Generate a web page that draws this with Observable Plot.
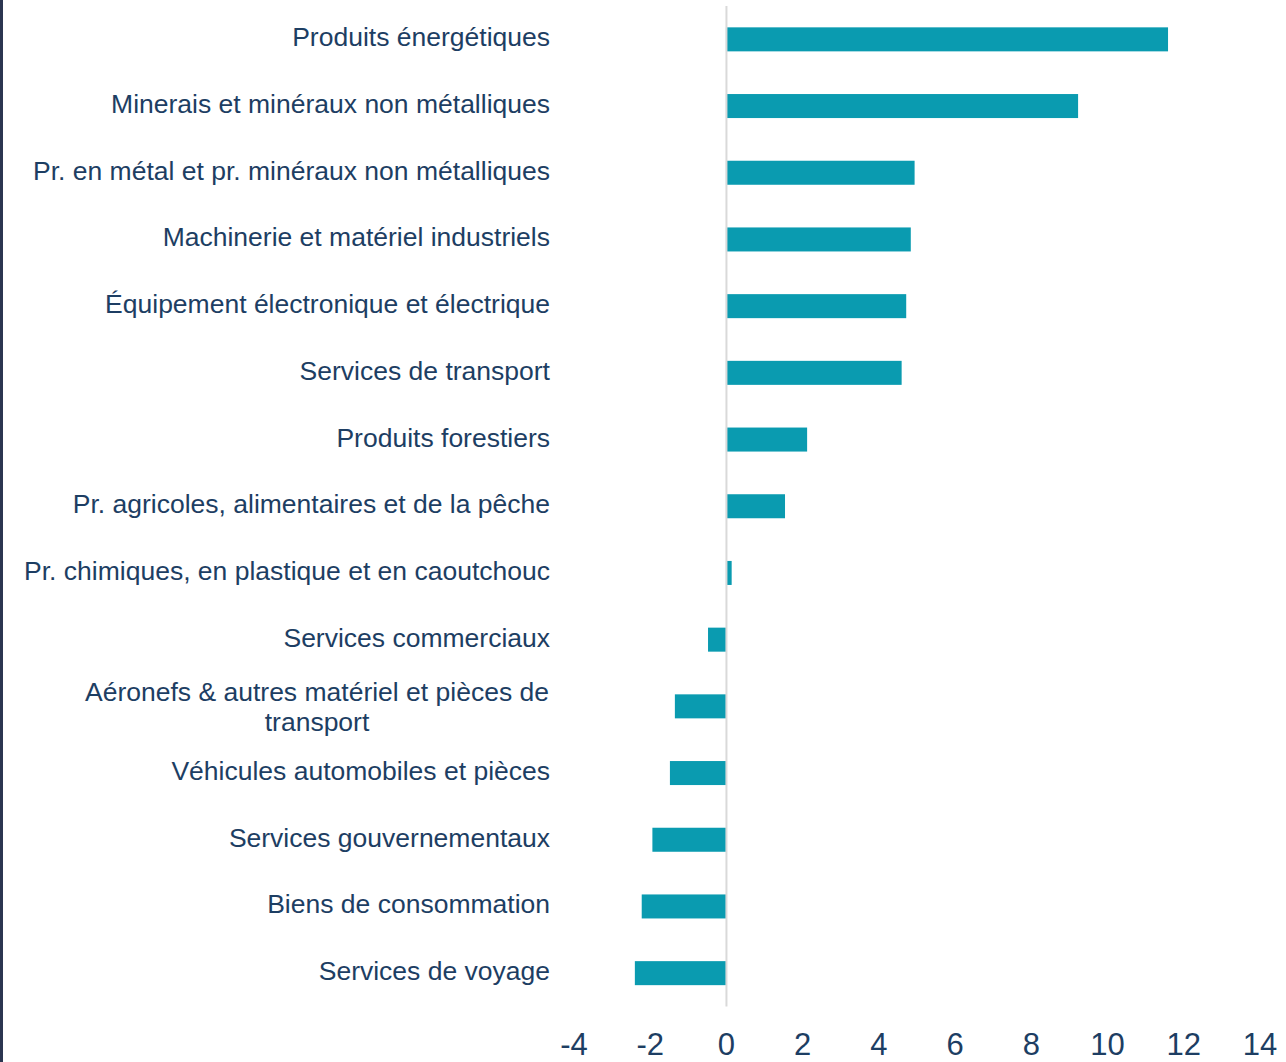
<!DOCTYPE html>
<html>
<head>
<meta charset="utf-8">
<script src="https://cdn.jsdelivr.net/npm/d3@7"></script>
<script src="https://cdn.jsdelivr.net/npm/@observablehq/plot@0.6"></script>
<style>
  html, body { margin: 0; padding: 0; background: #fff; }
  #wrap { position: relative; width: 1286px; height: 1062px; overflow: hidden; }
  #edge { position: absolute; left: 0; top: 0; width: 3px; height: 1062px; background: #2b3550; }
</style>
</head>
<body>
<div id="wrap"><div id="edge"></div></div>
<script>
const categories = [
  "Produits énergétiques",
  "Minerais et minéraux non métalliques",
  "Pr. en métal et pr. minéraux non métalliques",
  "Machinerie et matériel industriels",
  "Équipement électronique et électrique",
  "Services de transport",
  "Produits forestiers",
  "Pr. agricoles, alimentaires et de la pêche",
  "Pr. chimiques, en plastique et en caoutchouc",
  "Services commerciaux",
  "Aéronefs & autres matériel et pièces de transport",
  "Véhicules automobiles et pièces",
  "Services gouvernementaux",
  "Biens de consommation",
  "Services de voyage"
];
const values = [11.6, 9.24, 4.95, 4.85, 4.73, 4.61, 2.13, 1.55, 0.15, -0.47, -1.34, -1.47, -1.93, -2.21, -2.39];
const xTicks = [-4, -2, 0, 2, 4, 6, 8, 10, 12, 14];
const wrappedLabel = "Aéronefs & autres matériel et pièces de transport";
const wrappedLines = ["Aéronefs & autres matériel et pièces de", "transport"];

const data = categories.map((c, i) => ({category: c, value: values[i]}));
const textColor = "#1d3e63";

const chart = Plot.plot({
  width: 1286,
  height: 1062,
  marginLeft: 573.5,
  marginRight: 26.5,
  marginTop: 6,
  marginBottom: 55.5,
  style: {fontFamily: "'Liberation Sans', Arial, sans-serif", background: "transparent"},
  x: {domain: [-4, 14], ticks: xTicks},
  y: {domain: categories, paddingInner: 0.64, paddingOuter: 0.32, round: false},
  marks: [
    Plot.barX(data, {x: "value", y: "category", fill: "#0a9bb0"}),
    Plot.ruleX([0], {stroke: "#d9d9d9", strokeWidth: 2}),
    Plot.axisX({ticks: xTicks, tickSize: 0, tickPadding: 26, fontSize: 31, fill: textColor, label: null, tickFormat: d => String(d)}),
    Plot.axisY({tickSize: 0, tickPadding: 24, fontSize: 26.5, fill: textColor, label: null, dy: -2,
      tickFormat: d => d === wrappedLabel ? "" : d}),
    Plot.text([wrappedLabel], {x: -4, y: d => d, text: () => wrappedLines.join("\n"),
      textAnchor: "middle", lineAnchor: "middle", lineHeight: 1.13, dx: -257, fontSize: 26.5, fill: textColor})
  ]
});
document.getElementById("wrap").appendChild(chart);
</script>
</body>
</html>
